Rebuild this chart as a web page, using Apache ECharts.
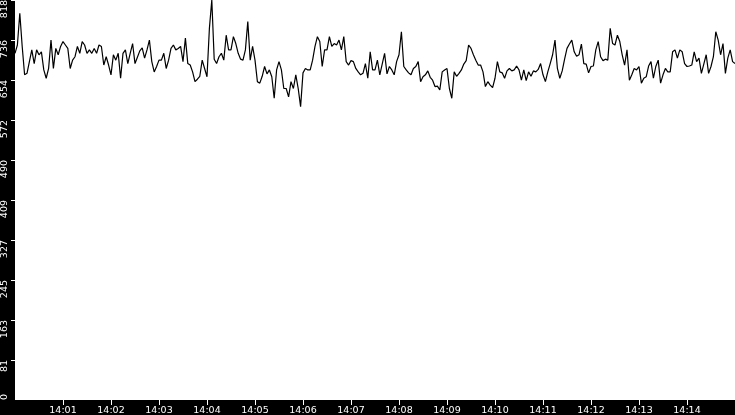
<!DOCTYPE html>
<html>
<head>
<meta charset="utf-8">
<script src="https://cdn.jsdelivr.net/npm/echarts@6/dist/echarts.min.js"></script>
<style>
  html, body { margin: 0; padding: 0; background: #000; overflow: hidden; }
  #chart { width: 735px; height: 415px; }
</style>
</head>
<body>
<div id="chart"></div>
<script>
// seconds between samples, first sample at 14:00:00
var stepSec = 3;
var xTickLabels = ['14:01','14:02','14:03','14:04','14:05','14:06','14:07','14:08','14:09','14:10','14:11','14:12','14:13','14:14'];
var yTickLabels = ['0','81','163','245','327','409','490','572','654','736','818'];

// one row per 75 s
var samples = [
  709,726,791,723,665,668,692,716,688,716,706,712,675,658,678,736,678,719,706,723,733,726,719,678,695,
  702,723,709,733,726,709,716,709,719,709,726,723,685,702,685,665,706,695,709,658,709,716,688,709,729,
  688,701,714,720,699,716,736,692,671,682,695,695,709,678,695,719,726,716,719,723,692,740,688,685,671,
  651,656,662,695,678,661,760,818,697,688,702,709,695,746,716,716,743,729,709,697,695,716,774,695,723,
  695,651,648,662,682,667,675,661,617,675,692,675,637,637,620,651,637,665,637,600,669,678,675,675,695,
  723,743,733,682,716,716,743,723,729,726,736,716,743,692,685,694,692,678,671,665,668,688,658,712,675,
  675,695,665,687,709,667,682,675,665,692,706,753,682,675,669,665,678,682,692,651,661,665,673,660,654,
  641,642,634,671,675,678,637,617,671,662,668,675,687,694,726,719,706,695,685,685,671,641,651,644,639,
  658,692,671,669,658,673,678,673,675,683,675,654,675,653,671,662,673,671,676,688,665,651,671,688,706,
  736,678,658,673,697,719,728,736,712,703,706,728,688,687,669,682,683,716,733,702,694,697,695,760,729,
  726,746,733,706,685,716,654,665,678,675,682,648,658,661,683,692,658,682,695,648,665,678,671,671,712,
  716,699,716,712,688,682,683,685,712,692,699,668,687,706,668,682,702,753,736,706,729,668,699,716,692,688
];

var yMax = 818;
var yStep = yMax / 10;

var points = [];
for (var i = 0; i < samples.length; i++) {
  points.push([i * stepSec, samples[i]]);
}

var chart = echarts.init(document.getElementById('chart'));
var labelFont = { color: '#fff', fontFamily: 'DejaVu Sans', fontSize: 9.5 };

chart.setOption({
  animation: false,
  backgroundColor: '#000',
  grid: {
    left: 15, right: 0, top: 0, bottom: 15,
    containLabel: false, outerBoundsMode: 'none',
    show: true, backgroundColor: '#fff', borderColor: '#fff', borderWidth: 0
  },
  xAxis: {
    type: 'value', min: 0, max: 900, interval: 60,
    axisLine: { show: false },
    splitLine: { show: false },
    axisTick: { show: true, length: 5, lineStyle: { color: '#fff', width: 1 } },
    axisLabel: Object.assign({
      margin: 6, showMinLabel: false, showMaxLabel: false,
      formatter: function (v) { return xTickLabels[Math.round(v / 60) - 1] || ''; }
    }, labelFont)
  },
  yAxis: [{
    type: 'value', min: 0, max: yMax, interval: yStep,
    axisLine: { show: false },
    splitLine: { show: false },
    axisTick: { show: true, length: 4, lineStyle: { color: '#fff', width: 1 } },
    axisLabel: Object.assign({
      rotate: 90, align: 'right', verticalAlign: 'bottom', margin: 5,
      showMinLabel: false, showMaxLabel: true,
      formatter: function (v) { return yTickLabels[Math.round(v / yStep)]; }
    }, labelFont)
  }, {
    // bottom label sits above its tick
    type: 'value', min: 0, max: yMax, interval: yMax, position: 'left',
    axisLine: { show: false }, splitLine: { show: false }, axisTick: { show: false },
    axisLabel: Object.assign({
      rotate: 90, align: 'left', verticalAlign: 'bottom', margin: 5,
      showMinLabel: true, showMaxLabel: false,
      formatter: function (v) { return v === 0 ? yTickLabels[0] : ''; }
    }, labelFont)
  }],
  series: [{
    type: 'line',
    data: points,
    showSymbol: false,
    lineStyle: { color: '#000', width: 1.2 },
    silent: true
  }]
});
</script>
</body>
</html>
